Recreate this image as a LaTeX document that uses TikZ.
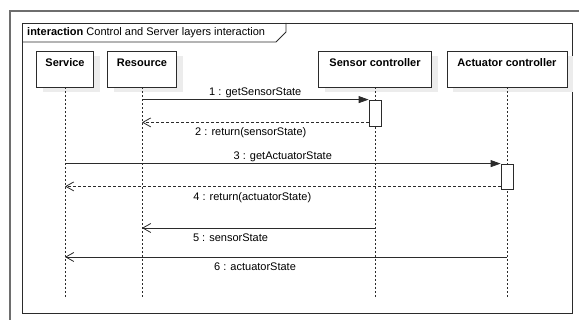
\documentclass[tikz,border=0pt]{standalone}
\usepackage{fontspec}
\setmainfont{Liberation Sans}
\usetikzlibrary{arrows.meta,positioning,shadows}
\definecolor{ink}{HTML}{2B2B2B}
\definecolor{rim}{HTML}{6E6E6E}
\definecolor{shade}{HTML}{ECECEC}
\tikzset{
  every node/.style={font=\fontsize{11}{13}\selectfont,text=black},
  outer/.style={draw=rim,line width=2pt},
  frame/.style={draw=ink,line width=0.8pt},
  head/.style={draw=ink,line width=0.8pt,fill=white,minimum height=36pt,inner xsep=0pt,inner ysep=8pt,
    text height=8pt,text depth=12pt,font=\fontsize{11}{13}\selectfont\bfseries,
    drop shadow={shadow xshift=6pt,shadow yshift=-5pt,fill=shade,opacity=1}},
  lifeline/.style={draw=ink,line width=0.7pt,dash pattern=on 2pt off 2pt},
  activation/.style={draw=ink,line width=0.8pt,fill=white,minimum width=12pt,inner sep=0pt},
  call/.style={draw=ink,line width=0.8pt,-{Triangle[length=10pt,width=7pt]}},
  reply/.style={draw=ink,line width=0.8pt,-{Straight Barb[length=8pt,width=9pt]}},
  back/.style={reply,dash pattern=on 3pt off 2pt},
  msg/.style={inner sep=1.5pt},
}

\begin{document}
\begin{tikzpicture}[x=1pt,y=-1pt]
\useasboundingbox (0,0) rectangle (579,320);

% frames
\draw[outer] (10,320) -- (10,11) -- (579,11);
\draw[frame] (22,23) rectangle (572,313);
\node[anchor=west,inner sep=0pt] (title) at (27,33) {\textbf{interaction} Control and Server layers interaction};
\draw[frame] (22,42) -- (276,42) -- (286,32) -- (286,23);

% participants
\node[head,minimum width=57pt] (service) at (65,69) {Service};
\node[head,minimum width=69pt] (resource) at (142,69) {Resource};
\node[head,minimum width=113pt] (sensor) at (375,69) {Sensor controller};
\node[head,minimum width=120pt] (actuator) at (507,69) {Actuator controller};

\foreach \n in {service,resource,sensor,actuator}
  \draw[lifeline] (\n.south) -- (\n.south |- 0,297);

% activations
\node[activation,minimum height=26pt] (actS) at (375,113) {};
\node[activation,minimum height=25pt] (actA) at (507,176.5) {};
\coordinate (retS) at ([yshift=4pt]actS.south west);
\coordinate (retA) at ([yshift=3pt]actA.south west);

% messages
\draw[call] (resource |- actS.north west) -- node[msg,above=-0.5pt] {1 : getSensorState} (actS.north west);
\draw[back] (retS) -- node[msg,below=3pt,pos=0.52] {2 : return(sensorState)} (resource |- retS);
\draw[call] (service |- actA.north west) -- node[msg,above=-0.5pt] {3 : getActuatorState} (actA.north west);
\draw[back] (retA) -- node[msg,below=4pt,pos=0.57] {4 : return(actuatorState)} (service |- retA);
\draw[reply] (sensor |- 0,228) -- node[msg,below=4pt,pos=0.62] {5 : sensorState} (resource |- 0,228);
\draw[reply] (actuator |- 0,257) -- node[msg,below=4pt,pos=0.57] {6 : actuatorState} (service |- 0,257);

\end{tikzpicture}
\end{document}
